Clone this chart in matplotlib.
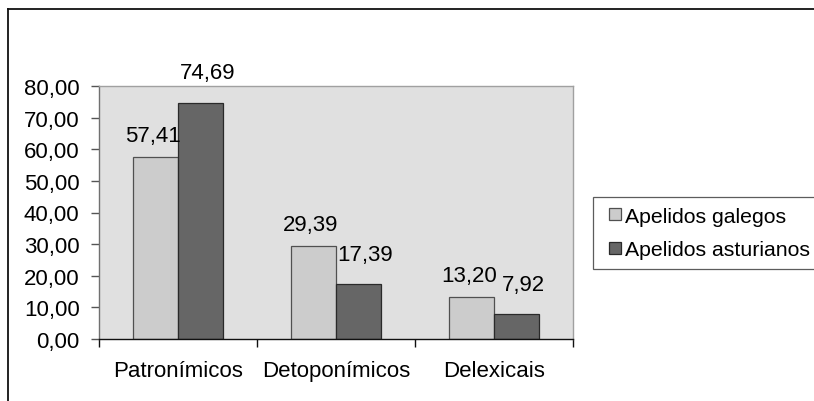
import numpy as np
import matplotlib.pyplot as plt
from matplotlib.lines import Line2D
from matplotlib.patches import Rectangle
from matplotlib.legend_handler import HandlerPatch

plt.rcParams['font.family'] = ['Liberation Sans', 'DejaVu Sans']

categories = ['Patronímicos', 'Detoponímicos', 'Delexicais']
series_names = ['Apelidos galegos', 'Apelidos asturianos']
galegos = [57.41, 29.39, 13.20]
asturianos = [74.69, 17.39, 7.92]
y_ticks = [0, 10, 20, 30, 40, 50, 60, 70, 80]

FS = 16


def comma(v):
    return f"{v:.2f}".replace('.', ',')


def small_square(legend, orig_handle, xdescent, ydescent, width, height, fontsize):
    s = 0.56 * fontsize
    return Rectangle((-xdescent + width - s, -ydescent + (height - s) / 2), s, s)


fig = plt.figure(figsize=(8.14, 4.02), dpi=100)

# outer chart frame: top and left edges
top_y = 1 - 9.5 / 402
left_x = 8 / 814
fig.add_artist(Line2D([left_x, 1.1], [top_y, top_y], transform=fig.transFigure,
                      color='#111111', linewidth=1.3))
fig.add_artist(Line2D([left_x, left_x], [-0.1, top_y], transform=fig.transFigure,
                      color='#111111', linewidth=1.3))

ax = fig.add_axes([99 / 814, 1 - 340 / 402, 474 / 814, 253 / 402])
ax.set_facecolor('#e0e0e0')

x = np.arange(len(categories))
w = 1 / 3.5
b1 = ax.bar(x - w / 2, galegos, w, color='#cccccc', edgecolor='#505050',
            linewidth=0.9, label=series_names[0])
b2 = ax.bar(x + w / 2, asturianos, w, color='#666666', edgecolor='#2a2a2a',
            linewidth=0.9, label=series_names[1])

for rect, v in zip(b1, galegos):
    ax.annotate(comma(v), (rect.get_x() + rect.get_width() / 2, v),
                xytext=(-2, 8), textcoords='offset points',
                ha='center', va='bottom', fontsize=FS)
for rect, v in zip(b2, asturianos):
    ax.annotate(comma(v), (rect.get_x() + rect.get_width() / 2, v),
                xytext=(5, 14), textcoords='offset points',
                ha='center', va='bottom', fontsize=FS)

ax.set_xlim(-0.5, len(categories) - 0.5)
ax.set_ylim(0, 80)
ax.set_yticks(y_ticks)
ax.set_yticklabels([comma(t) for t in y_ticks])

# category boundaries carry the ticks, the names sit between them
ax.set_xticks(np.arange(len(categories) + 1) - 0.5)
ax.set_xticklabels([])
ax.set_xticks(x, minor=True)
ax.set_xticklabels(categories, minor=True)
ax.tick_params(axis='x', which='major', direction='out', length=6,
               width=1, color='#111111')
ax.tick_params(axis='x', which='minor', length=0, pad=15, labelsize=FS)
ax.tick_params(axis='y', direction='out', length=6, width=1,
               color='#555555', pad=8, labelsize=FS)

for side in ('top', 'right'):
    ax.spines[side].set_color('#a0a0a0')
    ax.spines[side].set_linewidth(1)
ax.spines['left'].set_color('#707070')
ax.spines['bottom'].set_color('#111111')
ax.spines['left'].set_linewidth(1)
ax.spines['bottom'].set_linewidth(1)

h1, h2 = b1.patches[0], b2.patches[0]
leg = fig.legend(handles=[h1, h2], labels=series_names,
                 loc='upper left', bbox_to_anchor=(593 / 814, 1 - 198 / 402),
                 prop={'size': 15.3}, frameon=True, fancybox=False,
                 handler_map={h1: HandlerPatch(patch_func=small_square),
                              h2: HandlerPatch(patch_func=small_square)},
                 handlelength=0.85, handleheight=0.7, handletextpad=0.2,
                 borderpad=0.45, labelspacing=0.7, borderaxespad=0)
leg.get_frame().set_edgecolor('#333333')
leg.get_frame().set_linewidth(0.9)

fig.savefig('out.png', dpi=100)
